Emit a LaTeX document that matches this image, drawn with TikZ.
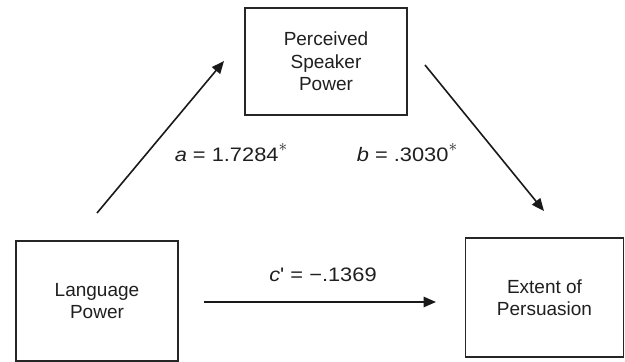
\documentclass[tikz,border=0pt]{standalone}
\usepackage{fontspec}
\setmainfont{Liberation Sans}
\newfontfamily\lblfont[FakeStretch=1.12]{Liberation Sans}
\newcommand{\sigmark}{\raisebox{9.5pt}{\fontsize{16}{16}\selectfont$\ast$}}
\usetikzlibrary{arrows.meta}
\begin{document}
\begin{tikzpicture}[x=1pt,y=-1pt,
  box/.style={draw=black!85, line width=1.2pt, inner sep=0pt, align=center,
    font=\fontsize{19}{22.5}\selectfont, text=black!88},
  conn/.style={draw=black!90, line width=1.6pt, -{Triangle[length=12.5pt,width=10.5pt]}},
  lbl/.style={inner sep=0pt, font=\lblfont\fontsize{19.5}{22}\selectfont, text=black!88}]
\useasboundingbox (0,0) rectangle (625,362);
% boxes
\node[box, minimum width=162pt, minimum height=107pt] (psp) at (326,61.5) {Perceived\\Speaker\\Power};
\node[box, minimum width=162pt, minimum height=120pt] (lp) at (97,301) {Language\\Power};
\node[box, minimum width=158pt, minimum height=119pt] (ep) at (544.5,297.5) {Extent of\\Persuasion};
% arrow end points
\coordinate (a1) at (97,213);
\coordinate (a2) at (224,61);
\coordinate (b1) at (425,65);
\coordinate (b2) at (544,211);
\coordinate (c1) at (204,302);
\coordinate (c2) at (436,302);
\draw[conn] (a1) -- (a2);
\draw[conn] (b1) -- (b2);
\draw[conn] (c1) -- (c2);
% labels
\node[lbl, anchor=base] (la) at (231,161) {\textit{a} = 1.7284\sigmark};
\node[lbl, anchor=base] (lb) at (407,161) {\textit{b} = .3030\sigmark};
\node[lbl, anchor=base] (lc) at (323,281.5) {\textit{c}' = −.1369};
\end{tikzpicture}
\end{document}
